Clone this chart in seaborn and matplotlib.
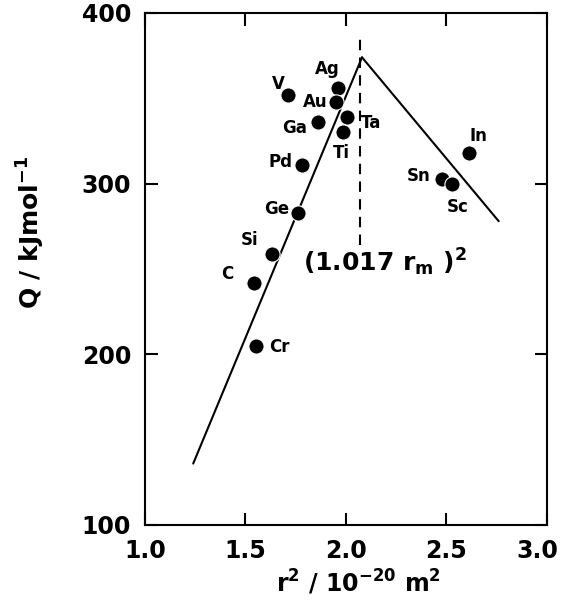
import numpy as np
import pandas as pd
import matplotlib
matplotlib.use("Agg")
import matplotlib.pyplot as plt
import matplotlib.transforms as mtransforms
import seaborn as sns

# data
elements = ["V", "Ag", "Au", "Ta", "Ga", "Ti", "Pd", "In", "Sn", "Sc", "Ge", "Si", "C", "Cr"]
r2 = [1.71, 1.96, 1.95, 2.005, 1.86, 1.985, 1.78, 2.61, 2.48, 2.53, 1.76, 1.63, 1.54, 1.55]
Q = [352, 356, 348, 339, 336, 330, 311, 318, 303, 300, 283, 259, 242, 205]

left_x = [1.24, 2.08]
left_y = [136, 374]
right_x = [2.08, 2.76]
right_y = [374, 278]
peak_x = 2.07
peak_span = [264, 387]

# label offsets (points) relative to each dot
offsets = {
  "V": (-7, 8), "Ag": (-8, 14), "Au": (-15, 0), "Ta": (17, -4),
  "Ga": (-17, -4), "Ti": (-1, -15), "Pd": (-15, 2), "In": (7, 12),
  "Sn": (-17, 2), "Sc": (4, -17), "Ge": (-15, 3), "Si": (-16, 10),
  "C": (-19, 6), "Cr": (17, -1),
}

df = pd.DataFrame({"element": elements, "r2": r2, "Q": Q})

sns.set_style("ticks")
plt.rcParams["font.family"] = ["DejaVu Sans"]
plt.rcParams["font.weight"] = "bold"
plt.rcParams["mathtext.default"] = "bf"
for k in ["text.color", "axes.labelcolor", "xtick.color", "ytick.color", "axes.edgecolor"]:
  plt.rcParams[k] = "black"

fig = plt.figure(figsize=(5.63, 6.07), dpi=100)
ax = fig.add_axes([0.2575, 0.1351, 0.714, 0.8435])

sns.lineplot(x=left_x, y=left_y, sort=False, estimator=None, color="black", lw=1.5, ax=ax)
sns.lineplot(x=right_x, y=right_y, sort=False, estimator=None, color="black", lw=1.5, ax=ax)
ax.plot([peak_x, peak_x], peak_span, color="black", lw=1.5, dashes=(5, 3.5))

sns.scatterplot(data=df, x="r2", y="Q", s=120, color="black", edgecolor="white",
                linewidth=0.8, zorder=3, ax=ax)

for el, x, y in zip(elements, r2, Q):
  dx, dy = offsets[el]
  ax.annotate(el, (x, y), xytext=(dx, dy), textcoords="offset points",
              ha="center", va="center", fontsize=12, fontweight="bold")

ax.text(2.195, 254, r"(1.017 r$_\mathregular{m}$ )$^\mathregular{2}$", ha="center", va="center",
        fontsize=18, fontweight="bold")

ax.set_xlim(1.0, 3.0)
ax.set_ylim(100, 400)
ax.set_xticks([1.0, 1.5, 2.0, 2.5, 3.0])
ax.set_yticks([100, 200, 300, 400])
ax.set_xticklabels(["1.0", "1.5", "2.0", "2.5", "3.0"])
ax.tick_params(direction="in", length=9, width=1.5, top=True, right=True,
               labelsize=17, pad=10)
for lab in ax.get_xticklabels() + ax.get_yticklabels():
  lab.set_fontweight("bold")
# last x label sits a little left of the corner, as in the original
last = ax.get_xticklabels()[-1]
last.set_transform(last.get_transform() + mtransforms.ScaledTranslation(-0.1, 0, fig.dpi_scale_trans))
for sp in ax.spines.values():
  sp.set_linewidth(1.5)
  sp.set_visible(True)

ax.set_xlabel(r"r$^\mathregular{2}$ / 10$^\mathregular{-20}$ m$^\mathregular{2}$", fontsize=17, fontweight="bold")
ax.set_ylabel(r"Q / kJmol$^\mathregular{-1}$", fontsize=18, fontweight="bold")
ax.xaxis.set_label_coords(0.532, -0.084)
ax.yaxis.set_label_coords(-0.244, 0.571)

fig.savefig("out.png", dpi=100)
